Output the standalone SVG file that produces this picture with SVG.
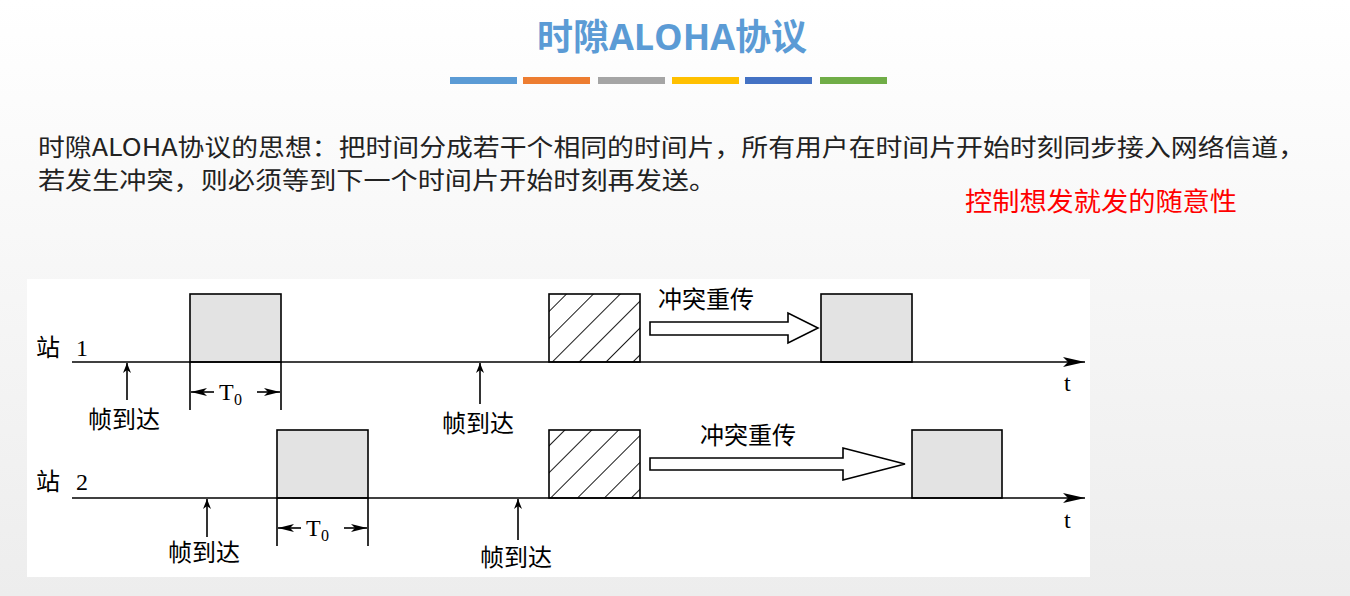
<svg xmlns="http://www.w3.org/2000/svg" width="1350" height="596" viewBox="0 0 1350 596">
<defs>
<linearGradient id="bg" x1="0" y1="0" x2="0" y2="1"><stop offset="0" stop-color="#ffffff"/><stop offset="1" stop-color="#ededed"/></linearGradient>
<pattern id="hatch" patternUnits="userSpaceOnUse" width="19" height="19" patternTransform="rotate(45)"><line x1="0" y1="0" x2="0" y2="19" stroke="#000" stroke-width="1.8"/></pattern>
<marker id="ah" markerWidth="10" markerHeight="8" refX="10" refY="4" orient="auto" markerUnits="userSpaceOnUse"><path d="M0,0 L10,4 L0,8 L3,4 Z" fill="#000"/></marker>
<marker id="big" markerWidth="22" markerHeight="10" refX="22" refY="5" orient="auto" markerUnits="userSpaceOnUse"><path d="M0,0 L22,5 L0,10 L5,5 Z" fill="#000"/></marker>
<marker id="dim" markerWidth="16" markerHeight="8" refX="16" refY="4" orient="auto" markerUnits="userSpaceOnUse"><path d="M0,0 L16,4 L0,8 L4,4 Z" fill="#000"/></marker>
</defs>
<style>
.zh{font-family:"Liberation Serif","Noto Sans CJK SC",serif;font-size:24px;fill:#000}
.body{font-family:"Noto Sans CJK SC","Noto Sans",sans-serif;font-size:24px;fill:#222}
.box{fill:#e3e3e3;stroke:#000;stroke-width:1.6}
.hb{fill:url(#hatch);stroke:#000;stroke-width:1.6}
.ln{stroke:#000;stroke-width:1.6;fill:none}
.hol{fill:#fff;stroke:#000;stroke-width:1.6}
</style>
<rect width="1350" height="596" fill="url(#bg)"/>
<text x="672" y="50" text-anchor="middle" font-family="'Open Sans','Noto Sans CJK SC',sans-serif" font-size="36" font-weight="bold" fill="#5B9BD5">时隙ALOHA协议</text>
<g>
<rect x="450" y="77" width="67" height="7" fill="#5B9BD5"/>
<rect x="523" y="77" width="67" height="7" fill="#ED7D31"/>
<rect x="598" y="77" width="67" height="7" fill="#A5A5A5"/>
<rect x="672" y="77" width="67" height="7" fill="#FFC000"/>
<rect x="745" y="77" width="67" height="7" fill="#4472C4"/>
<rect x="820" y="77" width="67" height="7" fill="#70AD47"/>
</g>
<text class="body" x="38" y="156" textLength="1267" lengthAdjust="spacingAndGlyphs">时隙ALOHA协议的思想：把时间分成若干个相同的时间片，所有用户在时间片开始时刻同步接入网络信道，</text>
<text class="body" x="38" y="189" textLength="678" lengthAdjust="spacingAndGlyphs">若发生冲突，则必须等到下一个时间片开始时刻再发送。</text>
<text x="965" y="211" font-family="'Noto Sans CJK SC',sans-serif" font-size="26" fill="#ff0000" textLength="272" lengthAdjust="spacingAndGlyphs">控制想发就发的随意性</text>
<rect x="27" y="279" width="1063" height="298" fill="#fff"/>
<g id="station1">
<text class="zh" x="36" y="356">站</text><text class="zh" x="76" y="356">1</text>
<rect id="s1f1" class="box" x="190" y="294" width="91" height="68"/>
<rect id="s1col" class="hb" x="549" y="294" width="91" height="68"/>
<rect id="s1f2" class="box" x="821" y="294" width="91" height="68"/>
<text class="zh" x="658" y="308">冲突重传</text>
<text class="zh" x="1064" y="391">t</text>
<text class="zh" x="88" y="428">帧到达</text>
<text class="zh" x="442" y="432">帧到达</text>
<text class="zh" x="219" y="400">T</text><text x="234" y="405" font-family="'Liberation Serif',serif" font-size="16">0</text>
</g>
<g id="station2">
<text class="zh" x="36" y="490">站</text><text class="zh" x="76" y="490">2</text>
<rect id="s2f1" class="box" x="277" y="430" width="91" height="68"/>
<rect id="s2col" class="hb" x="549" y="430" width="91" height="68"/>
<rect id="s2f2" class="box" x="912" y="430" width="90" height="68"/>
<text class="zh" x="700" y="444">冲突重传</text>
<text class="zh" x="1064" y="528">t</text>
<text class="zh" x="168" y="561">帧到达</text>
<text class="zh" x="480" y="566">帧到达</text>
<text class="zh" x="306" y="536">T</text><text x="321" y="541" font-family="'Liberation Serif',serif" font-size="16">0</text>
</g>
<g id="connectors">
<line class="ln" x1="72" y1="362" x2="1085" y2="362" marker-end="url(#big)"/>
<line class="ln" x1="72" y1="498" x2="1085" y2="498" marker-end="url(#big)"/>
<line class="ln" x1="127" y1="400" x2="127" y2="363" marker-end="url(#ah)"/>
<line class="ln" x1="480" y1="404" x2="480" y2="363" marker-end="url(#ah)"/>
<line class="ln" x1="207" y1="537" x2="207" y2="499" marker-end="url(#ah)"/>
<line class="ln" x1="518" y1="540" x2="518" y2="499" marker-end="url(#ah)"/>
<line class="ln" x1="190" y1="362" x2="190" y2="410"/><line class="ln" x1="281" y1="362" x2="281" y2="410"/>
<line class="ln" x1="214" y1="392" x2="191" y2="392" marker-end="url(#dim)"/>
<line class="ln" x1="257" y1="392" x2="280" y2="392" marker-end="url(#dim)"/>
<line class="ln" x1="277" y1="498" x2="277" y2="546"/><line class="ln" x1="368" y1="498" x2="368" y2="546"/>
<line class="ln" x1="301" y1="528" x2="278" y2="528" marker-end="url(#dim)"/>
<line class="ln" x1="344" y1="528" x2="367" y2="528" marker-end="url(#dim)"/>
<path class="hol" d="M650,322 L788,322 L788,313 L818,328 L788,343 L788,335 L650,335 Z"/>
<path class="hol" d="M650,458 L843,458 L843,448 L905,464 L843,480 L843,470 L650,470 Z"/>
</g>
</svg>
